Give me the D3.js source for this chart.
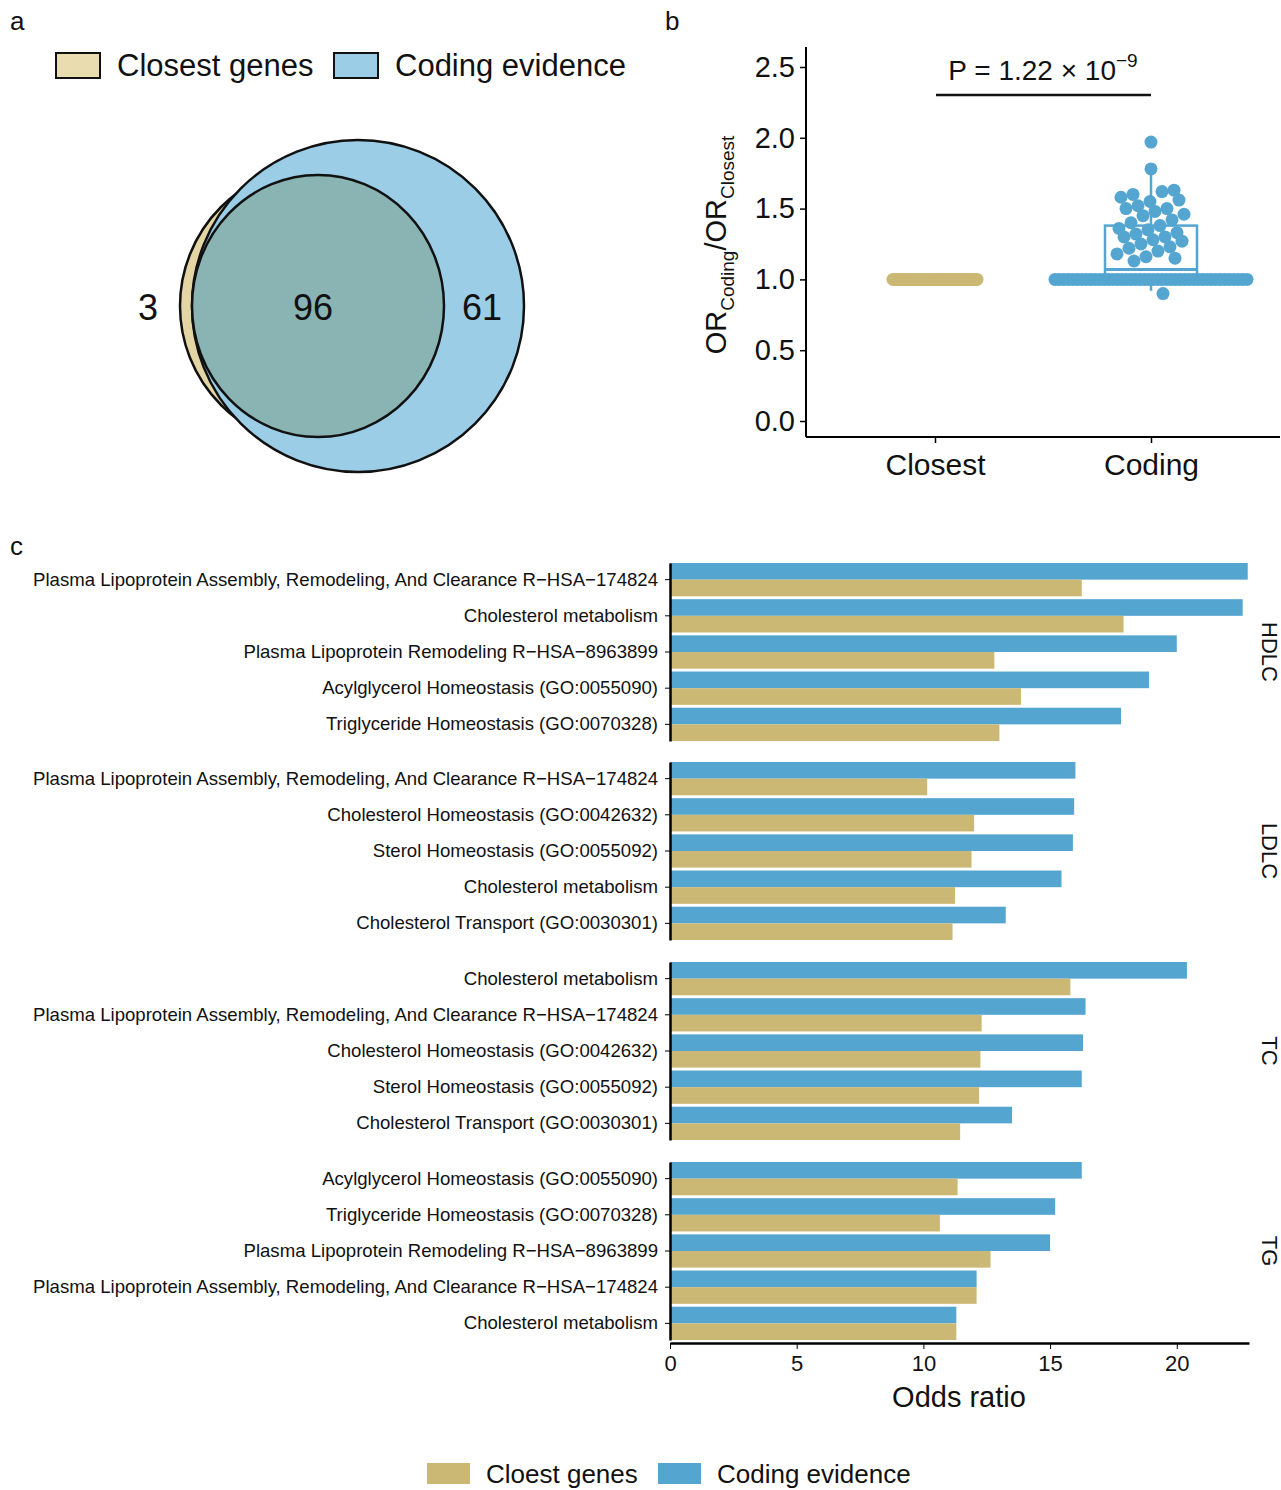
<!DOCTYPE html>
<html><head><meta charset="utf-8">
<script src="https://cdn.jsdelivr.net/npm/d3@7"></script>
<style>body{margin:0;background:#fff}text{font-family:"Liberation Sans",Arial,sans-serif;fill:#111}</style>
</head><body><svg id="viz" width="1281" height="1490"></svg>
<script>
// panel a
const vennCounts = {closestOnly: 3, both: 96, codingOnly: 61};
// panel b
const groups = ["Closest", "Coding"];
const closestRatios = Array(40).fill(1.0);
const codingHigh = [1.97,1.78,1.63,1.6,1.62,1.58,1.55,1.56,1.52,1.5,1.5,1.48,1.46,1.45,1.42,1.4,1.38,1.36,1.35,1.33,1.32,1.3,1.3,1.28,1.27,1.25,1.23,1.22,1.2,1.18,1.16,1.15,1.13,0.9];
const codingOnes = Array(44).fill(1.0);
const boxStats = {lo: 0.92, q1: 1.0, med: 1.07, q3: 1.38, hi: 1.80};
const pLabel = "P = 1.22 × 10";
// panel c
const traits = ["HDLC", "LDLC", "TC", "TG"];
const pathways = {
  HDLC: ["Plasma Lipoprotein Assembly, Remodeling, And Clearance R−HSA−174824","Cholesterol metabolism","Plasma Lipoprotein Remodeling R−HSA−8963899","Acylglycerol Homeostasis (GO:0055090)","Triglyceride Homeostasis (GO:0070328)"],
  LDLC: ["Plasma Lipoprotein Assembly, Remodeling, And Clearance R−HSA−174824","Cholesterol Homeostasis (GO:0042632)","Sterol Homeostasis (GO:0055092)","Cholesterol metabolism","Cholesterol Transport (GO:0030301)"],
  TC: ["Cholesterol metabolism","Plasma Lipoprotein Assembly, Remodeling, And Clearance R−HSA−174824","Cholesterol Homeostasis (GO:0042632)","Sterol Homeostasis (GO:0055092)","Cholesterol Transport (GO:0030301)"],
  TG: ["Acylglycerol Homeostasis (GO:0055090)","Triglyceride Homeostasis (GO:0070328)","Plasma Lipoprotein Remodeling R−HSA−8963899","Plasma Lipoprotein Assembly, Remodeling, And Clearance R−HSA−174824","Cholesterol metabolism"]
};
const codingOR = {HDLC:[22.8,22.6,20.0,18.9,17.8], LDLC:[16.0,15.95,15.9,15.45,13.25], TC:[20.4,16.4,16.3,16.25,13.5], TG:[16.25,15.2,15.0,12.1,11.3]};
const closestOR = {HDLC:[16.25,17.9,12.8,13.85,13.0], LDLC:[10.15,12.0,11.9,11.25,11.15], TC:[15.8,12.3,12.25,12.2,11.45], TG:[11.35,10.65,12.65,12.1,11.3]};
const xTicks = [0,5,10,15,20];

const svg = d3.select("#viz");
const gold = "#cbb874", blue = "#54a6d1";

// panel letters
[["a",10,30],["b",665,30],["c",10,555]].forEach(([t,x,y]) =>
  svg.append("text").attr("x",x).attr("y",y).style("font-size","26px").text(t));

// ---- panel a: venn ----
const va = svg.append("g");
[["#e9ddb0","Closest genes",56,117],["#9bcde6","Coding evidence",334,395]].forEach(([c,t,rx,tx]) => {
  va.append("rect").attr("x",rx).attr("y",53).attr("width",44).attr("height",25).attr("fill",c).attr("stroke","#111").attr("stroke-width",2);
  va.append("text").attr("x",tx).attr("y",76).style("font-size","31px").text(t);
});
va.append("circle").attr("cx",320).attr("cy",306).attr("r",140).attr("fill","#e4d6a4").attr("stroke","#111").attr("stroke-width",2.5);
va.append("circle").attr("cx",358).attr("cy",306).attr("r",166).attr("fill","#9bcde6").attr("stroke","#111").attr("stroke-width",2.5);
va.append("ellipse").attr("cx",318).attr("cy",306).attr("rx",126).attr("ry",131).attr("fill","#89b4b3").attr("stroke","#111").attr("stroke-width",2.5);
[[vennCounts.closestOnly,148],[vennCounts.both,313],[vennCounts.codingOnly,482]].forEach(([v,x]) =>
  va.append("text").attr("x",x).attr("y",320).attr("text-anchor","middle").style("font-size","36px").text(v));

// ---- panel b ----
const yb = d3.scaleLinear().domain([0,2.5]).range([421,67]);
const xb = d3.scalePoint().domain(groups).range([935,1151]);
const gb = svg.append("g");
gb.append("g").attr("transform","translate(806,0)").call(d3.axisLeft(yb).tickValues([0,0.5,1,1.5,2,2.5]).tickFormat(d3.format(".1f")).tickSize(6).tickSizeOuter(0))
  .call(g => { g.select(".domain").attr("d","M0,47V437").attr("stroke-width",2); g.selectAll("text").style("font-size","29px").attr("dx","-2"); g.selectAll("line").attr("stroke-width",1.5); });
gb.append("g").attr("transform","translate(0,437)").call(d3.axisBottom(xb).tickSize(6).tickSizeOuter(0))
  .call(g => { g.select(".domain").attr("d","M806,0H1280").attr("stroke-width",2); g.selectAll("text").style("font-size","30px").attr("dy","0.95em"); g.selectAll("line").attr("stroke-width",1.5); });
const yl = gb.append("text").attr("transform","translate(726,245) rotate(-90)").attr("text-anchor","middle").style("font-size","29px");
yl.append("tspan").text("OR");
yl.append("tspan").attr("dy",8).style("font-size","19px").text("Coding");
yl.append("tspan").attr("dy",-8).text("/OR");
yl.append("tspan").attr("dy",8).style("font-size","19px").text("Closest");
// box
const cx = xb("Coding");
gb.append("line").attr("x1",cx).attr("x2",cx).attr("y1",yb(boxStats.hi)).attr("y2",yb(boxStats.lo)).attr("stroke",blue).attr("stroke-width",2.5);
gb.append("rect").attr("x",cx-46).attr("width",92).attr("y",yb(boxStats.q3)).attr("height",yb(boxStats.q1)-yb(boxStats.q3)).attr("fill","#fff").attr("stroke",blue).attr("stroke-width",2.5);
gb.append("line").attr("x1",cx-46).attr("x2",cx+46).attr("y1",yb(boxStats.med)).attr("y2",yb(boxStats.med)).attr("stroke",blue).attr("stroke-width",3);
// closest points
closestRatios.forEach((v,i) => gb.append("circle").attr("cx",xb("Closest")-42+i*84/(closestRatios.length-1)).attr("cy",yb(v)).attr("r",6.5).attr("fill",gold));
// coding points, deterministic jitter
codingOnes.forEach((v,i) => gb.append("circle").attr("cx",cx-96+i*192/(codingOnes.length-1)).attr("cy",yb(v)).attr("r",6.5).attr("fill",blue));
codingHigh.forEach((v,i) => {
  const off = i < 2 ? 0 : ((i*29)%70) - 35;
  gb.append("circle").attr("cx",cx+off).attr("cy",yb(v)).attr("r",6.5).attr("fill",blue);
});
gb.append("line").attr("x1",936).attr("x2",1151).attr("y1",95).attr("y2",95).attr("stroke","#111").attr("stroke-width",2.5);
const pt = gb.append("text").attr("x",1043).attr("y",80).attr("text-anchor","middle").style("font-size","28px");
pt.append("tspan").text(pLabel);
pt.append("tspan").attr("dy",-13).style("font-size","19px").text("−9");

// ---- panel c ----
const xc = d3.scaleLinear().domain([0,22.85]).range([670,1249]);
const facetTop = {HDLC:563, LDLC:762, TC:962, TG:1162};
const facetH = 178;
const gc = svg.append("g");
traits.forEach(t => {
  const yc = d3.scaleBand().domain(pathways[t].map((p,i)=>i)).range([facetTop[t], facetTop[t]+facetH]).paddingInner(0.08).paddingOuter(0.0);
  const bw = yc.bandwidth()/2;
  pathways[t].forEach((p,i) => {
    gc.append("rect").attr("x",xc(0)).attr("y",yc(i)).attr("width",xc(codingOR[t][i])-xc(0)).attr("height",bw).attr("fill",blue);
    gc.append("rect").attr("x",xc(0)).attr("y",yc(i)+bw).attr("width",xc(closestOR[t][i])-xc(0)).attr("height",bw).attr("fill",gold);
  });
  const ax = gc.append("g").attr("transform","translate(670,0)")
    .call(d3.axisLeft(yc).tickFormat(i => pathways[t][i]).tickSize(5).tickSizeOuter(0));
  ax.select(".domain").attr("stroke-width",2.5);
  ax.selectAll("text").style("font-size","18.6px").attr("dx","-4");
  gc.append("text").attr("transform",`translate(1262,${facetTop[t]+facetH/2}) rotate(90)`).attr("text-anchor","middle").style("font-size","22px").text(t);
});
gc.append("g").attr("transform","translate(0,1343)").call(d3.axisBottom(xc).tickValues(xTicks).tickSize(6).tickSizeOuter(0))
  .call(g => { g.select(".domain").attr("stroke-width",2.5); g.selectAll("text").style("font-size","22px").attr("dy","0.85em"); });
gc.append("text").attr("x",959).attr("y",1407).attr("text-anchor","middle").style("font-size","29px").text("Odds ratio");
[[gold,"Cloest genes",427,486],[blue,"Coding evidence",658,717]].forEach(([c,t,rx,tx]) => {
  gc.append("rect").attr("x",rx).attr("y",1463).attr("width",43).attr("height",21).attr("fill",c);
  gc.append("text").attr("x",tx).attr("y",1483).style("font-size","26px").text(t);
});
</script></body></html>
